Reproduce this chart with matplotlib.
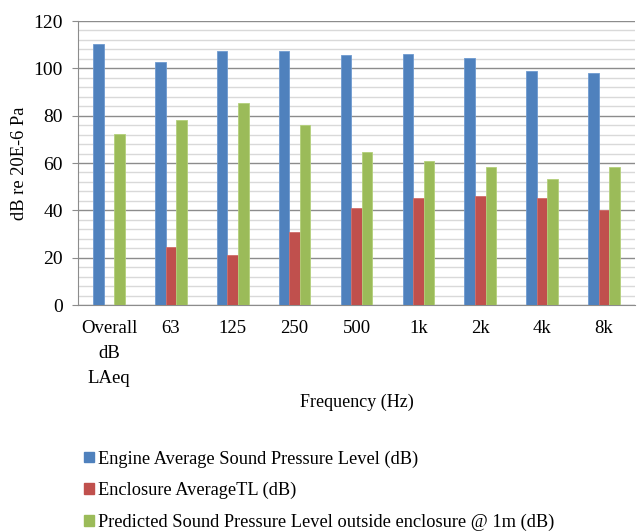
import matplotlib
matplotlib.use("Agg")
import matplotlib.pyplot as plt
import numpy as np
from matplotlib.patches import Patch
from matplotlib.ticker import MultipleLocator

plt.rcParams['font.family'] = ['Liberation Serif', 'DejaVu Serif']

categories = ["Overall\ndB\nLAeq", "63", "125", "250", "500", "1k", "2k", "4k", "8k"]
engine_spl = [110.1, 102.8, 107.2, 107.2, 105.5, 105.9, 104.2, 98.9, 98.0]
enclosure_tl = [0, 24.7, 21.2, 30.9, 40.8, 45.1, 46.0, 45.1, 40.1]
predicted_spl = [72.3, 78.2, 85.5, 76.2, 64.5, 60.7, 58.2, 53.3, 58.2]

series_names = [
    "Engine Average Sound Pressure Level (dB)",
    "Enclosure AverageTL (dB)",
    "Predicted Sound Pressure Level outside enclosure @ 1m (dB)",
]
colors = ["#4F81BD", "#C0504D", "#9BBB59"]
edges = ["#6E9AD0", "#D06E6B", "#B3D07A"]

fig = plt.figure(figsize=(6.41, 5.31), dpi=100)
ax = fig.add_axes([78 / 641, 1 - 305 / 531, (635 - 78) / 641, (305 - 21) / 531])

x = np.arange(len(categories))
w = 0.17
for i, vals in enumerate([engine_spl, enclosure_tl, predicted_spl]):
    ax.bar(x + (i - 1) * w, vals, width=w, color=colors[i],
           edgecolor=edges[i], linewidth=0.6, zorder=3)

ax.set_xlim(-0.5, len(categories) - 0.5)
ax.set_ylim(0, 120)
ax.yaxis.set_major_locator(MultipleLocator(20))
ax.yaxis.set_minor_locator(MultipleLocator(4))
ax.grid(axis='y', which='major', color='#8C8C8C', linewidth=1.0, zorder=0)
ax.grid(axis='y', which='minor', color='#D9D9D9', linewidth=1.0, zorder=0)

for s in ['top', 'right']:
    ax.spines[s].set_visible(False)
ax.spines['left'].set_color('#8C8C8C')
ax.spines['bottom'].set_color('#8C8C8C')

ax.set_xticks(x)
ax.set_xticklabels(categories, fontsize=13.5, linespacing=1.6, va='top')
ax.tick_params(axis='x', length=0, pad=11)
ax.tick_params(axis='y', which='major', length=4, color='#8C8C8C', labelsize=14, pad=7)
ax.tick_params(axis='y', which='minor', length=0)

ax.set_ylabel("dB re 20E-6 Pa", fontsize=13.3, labelpad=4)
fig.text((78 + 635) / 2 / 641, 1 - 402 / 531, "Frequency (Hz)", fontsize=13,
         ha='center', va='center')

handles = [Patch(facecolor=c, edgecolor=c) for c in colors]
fig.legend(handles, series_names, loc='upper left',
           bbox_to_anchor=(77 / 641, 1 - 443 / 531), frameon=False,
           fontsize=13.2, handlelength=0.5, handleheight=0.5,
           handletextpad=0.25, labelspacing=0.78, borderaxespad=0)

fig.savefig("out.png", dpi=100)
